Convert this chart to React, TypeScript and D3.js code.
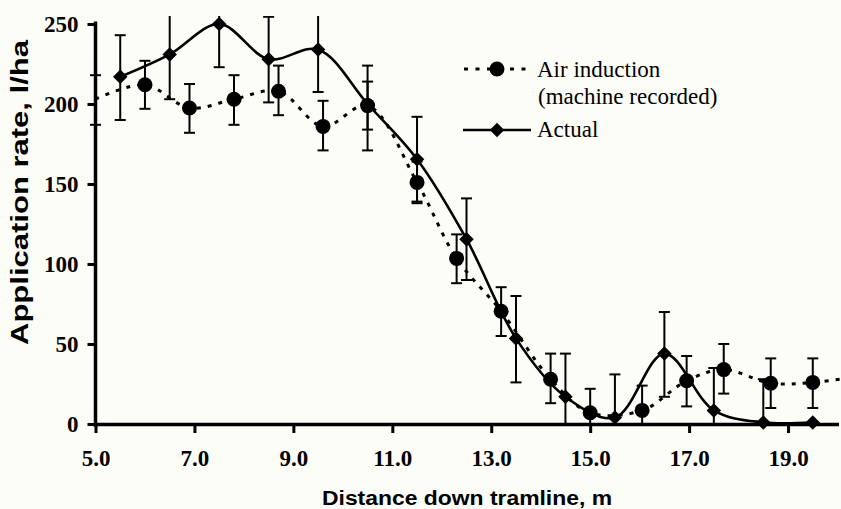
import React, { useEffect, useRef } from "react";
import * as d3 from "d3";

// Air induction (machine recorded) – circles, dotted line
const airX = [5.0, 6.0, 6.9, 7.8, 8.7, 9.6, 10.5, 11.5, 12.3, 13.2, 14.2, 15.0, 16.05, 16.95, 17.7, 18.65, 19.5, 20.5];
const airY = [203, 212, 197.5, 203, 208, 186, 199, 151, 103.5, 70.5, 28, 7, 8.5, 27, 34, 25.5, 26, 30];
const airLow = [187, 197, 182, 187, 193, 171, 184, 139, 88, 55, 13, 0, 0, 11, 19, 10, 10, 15];
const airHigh = [218, 227, 212.5, 218, 224, 202, 214, 164, 118.5, 85.5, 44, 22, 24, 42.5, 50, 41, 41, 45];

// Actual – diamonds, solid line
const actX = [5.5, 6.5, 7.5, 8.5, 9.5, 10.5, 11.5, 12.5, 13.5, 14.5, 15.5, 16.5, 17.5, 18.5, 19.5];
const actY = [217, 231, 250, 228, 234, 200, 165.5, 115.5, 53.5, 17, 4, 44, 8.5, 1, 1];
const actLow = [190, 203, 223, 201, 207.5, 171, 138, 90, 26, 0, 0, 17, 0, 0, 0];
const actHigh = [243, 259, 277, 254.5, 261, 224, 192, 141, 80, 44, 31, 70, 35, 28, 1];

const xTicks = [5, 7, 9, 11, 13, 15, 17, 19];
const yTicks = [0, 50, 100, 150, 200, 250];

const legendAir = ["Air induction", "(machine recorded)"];
const legendActual = "Actual";
const xTitle = "Distance down tramline, m";
const yTitle = "Application rate, l/ha";

const W = 841;
const H = 509;

export default function App() {
  const ref = useRef<SVGSVGElement>(null);

  useEffect(() => {
    const svg = d3.select(ref.current);
    svg.selectAll("*").remove();

    const x = d3.scaleLinear().domain([5, 20.02]).range([95.5, 838.5]);
    const y = d3.scaleLinear().domain([0, 250]).range([424, 24]);

    svg.append("rect").attr("width", W).attr("height", H).attr("fill", "#fdfdf8");

    const defs = svg.append("defs");
    defs
      .append("clipPath")
      .attr("id", "clipTop")
      .append("rect")
      .attr("x", 0)
      .attr("y", y(255))
      .attr("width", W)
      .attr("height", H);

    const serif = "'Times New Roman', 'Liberation Serif', serif";
    const sans = "Arial, 'Liberation Sans', sans-serif";

    // axes
    const xAxis = d3
      .axisBottom(x)
      .tickValues(xTicks)
      .tickFormat(d3.format(".1f") as any)
      .tickSize(9)
      .tickSizeOuter(0)
      .tickPadding(17);
    const gx = svg.append("g").attr("transform", `translate(0,${y(0)})`).call(xAxis);
    gx.select(".domain").attr("stroke", "#000").attr("stroke-width", 3.5);
    gx.selectAll(".tick line").attr("stroke", "#000").attr("stroke-width", 3);
    gx.selectAll(".tick text")
      .attr("fill", "#000")
      .attr("font-family", serif)
      .attr("font-weight", "bold")
      .attr("font-size", 23);

    const yAxis = d3
      .axisLeft(y)
      .tickValues(yTicks)
      .tickFormat(d3.format("d") as any)
      .tickSize(8)
      .tickSizeOuter(0)
      .tickPadding(9);
    const gy = svg.append("g").attr("transform", `translate(${x(5)},0)`).call(yAxis);
    gy.select(".domain").attr("stroke", "#000").attr("stroke-width", 3.5).attr("d", `M0,${y(251.5)}V${y(0) + 3}`);
    gy.selectAll(".tick line").attr("stroke", "#000").attr("stroke-width", 3);
    gy.selectAll(".tick text")
      .attr("fill", "#000")
      .attr("font-family", serif)
      .attr("font-weight", "bold")
      .attr("font-size", 23);

    // titles
    svg
      .append("text")
      .attr("x", 322)
      .attr("y", 505)
      .attr("font-family", sans)
      .attr("font-weight", "bold")
      .attr("font-size", 20)
      .attr("textLength", 290)
      .attr("lengthAdjust", "spacingAndGlyphs")
      .text(xTitle);
    svg
      .append("text")
      .attr("transform", `translate(28,${345}) rotate(-90)`)
      .attr("font-family", sans)
      .attr("font-weight", "bold")
      .attr("font-size", 24)
      .attr("textLength", 305)
      .attr("lengthAdjust", "spacingAndGlyphs")
      .text(yTitle);

    const plot = svg.append("g").attr("clip-path", "url(#clipTop)");

    const air = airX.map((v, i) => ({ x: v, y: airY[i], lo: airLow[i], hi: airHigh[i] }));
    const act = actX.map((v, i) => ({ x: v, y: actY[i], lo: actLow[i], hi: actHigh[i] }));

    const curve = d3.curveCatmullRom.alpha(0.5);
    const line = d3
      .line<{ x: number; y: number }>()
      .x((d) => x(d.x))
      .y((d) => y(d.y))
      .curve(curve);

    // error bars
    const drawErr = (data: typeof air) => {
      const g = plot.append("g").attr("stroke", "#000").attr("stroke-width", 2).attr("fill", "none");
      data.forEach((d) => {
        const cx = x(d.x);
        g.append("line").attr("x1", cx).attr("x2", cx).attr("y1", y(d.hi)).attr("y2", y(d.lo));
        g.append("line").attr("x1", cx - 5.5).attr("x2", cx + 5.5).attr("y1", y(d.hi)).attr("y2", y(d.hi));
        if (d.lo > 0)
          g.append("line").attr("x1", cx - 5.5).attr("x2", cx + 5.5).attr("y1", y(d.lo)).attr("y2", y(d.lo));
      });
    };
    drawErr(air);
    drawErr(act);

    // lines
    plot
      .append("path")
      .attr("d", line(air) as string)
      .attr("fill", "none")
      .attr("stroke", "#000")
      .attr("stroke-width", 3)
      .attr("stroke-dasharray", "4 7");
    plot
      .append("path")
      .attr("d", line(act) as string)
      .attr("fill", "none")
      .attr("stroke", "#000")
      .attr("stroke-width", 2.6);

    // markers
    plot
      .append("g")
      .selectAll("circle")
      .data(air.filter((d) => d.x > 5))
      .join("circle")
      .attr("cx", (d) => x(d.x))
      .attr("cy", (d) => y(d.y))
      .attr("r", 7.5)
      .attr("fill", "#000");

    const diamond = d3.symbol().type(d3.symbolSquare).size(105)();
    plot
      .append("g")
      .selectAll("path")
      .data(act)
      .join("path")
      .attr("d", diamond as string)
      .attr("transform", (d) => `translate(${x(d.x)},${y(d.y)}) rotate(45)`)
      .attr("fill", "#000");

    // legend
    const lg = svg.append("g");
    lg.append("line")
      .attr("x1", 464)
      .attr("x2", 531)
      .attr("y1", 69)
      .attr("y2", 69)
      .attr("stroke", "#000")
      .attr("stroke-width", 3)
      .attr("stroke-dasharray", "4 7.5");
    lg.append("circle").attr("cx", 497).attr("cy", 69).attr("r", 7.5).attr("fill", "#000");
    lg.append("line")
      .attr("x1", 463)
      .attr("x2", 531)
      .attr("y1", 130)
      .attr("y2", 130)
      .attr("stroke", "#000")
      .attr("stroke-width", 2.6);
    lg.append("path").attr("d", diamond as string).attr("transform", "translate(497,130) rotate(45)").attr("fill", "#000");

    const lt = lg
      .append("g")
      .attr("font-family", serif)
      .attr("font-size", 23)
      .attr("fill", "#000");
    lt.append("text").attr("x", 537).attr("y", 77).text(legendAir[0]);
    lt.append("text").attr("x", 538).attr("y", 104).text(legendAir[1]);
    lt.append("text").attr("x", 537).attr("y", 137).text(legendActual);
  }, []);

  return (
    <svg
      ref={ref}
      width={W}
      height={H}
      style={{ position: "absolute", left: 0, top: 0, display: "block" }}
    />
  );
}
